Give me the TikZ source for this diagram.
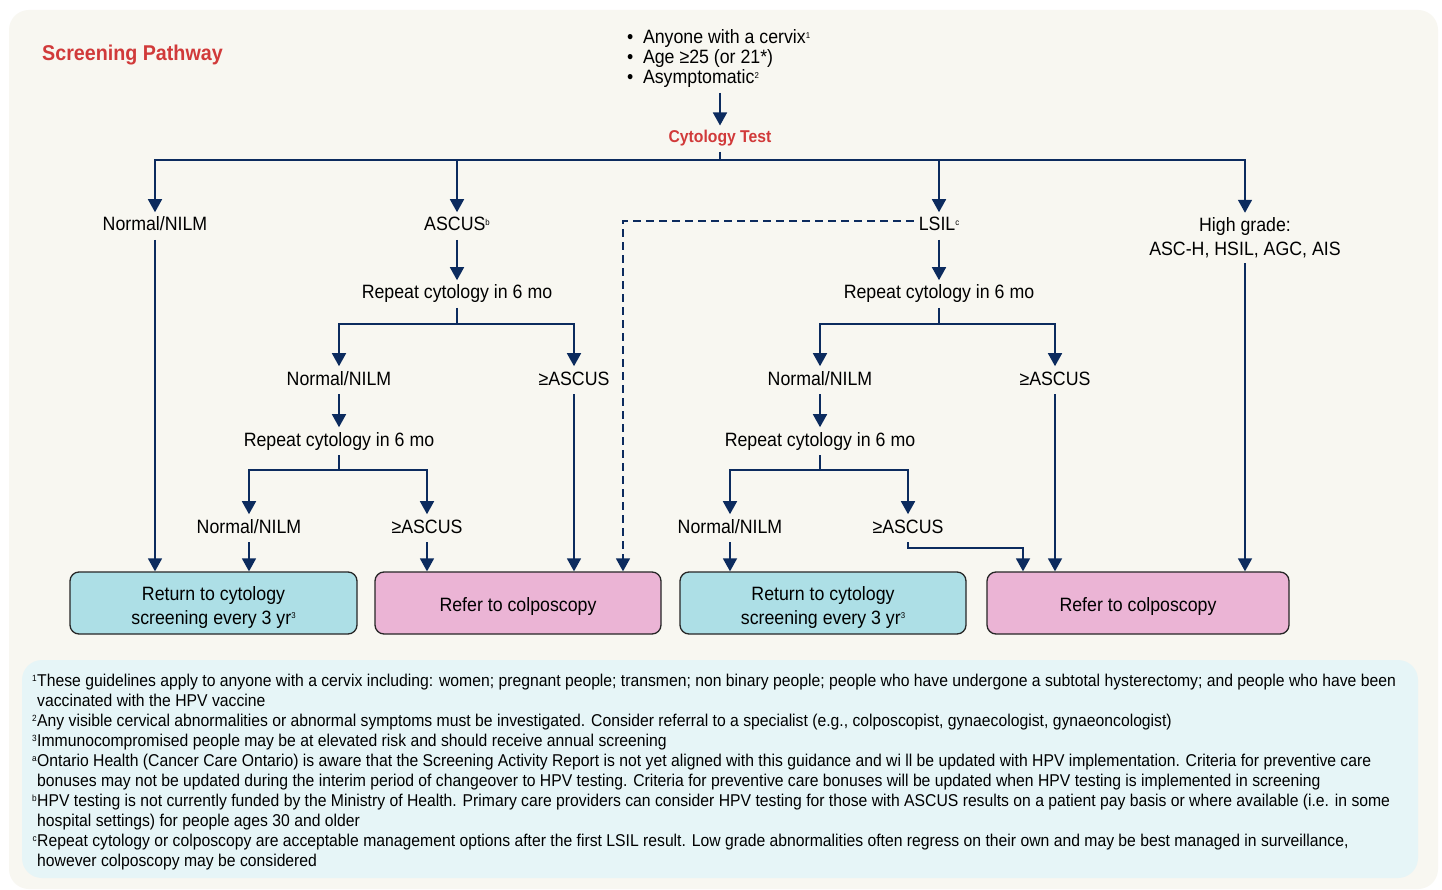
\documentclass[tikz,border=0pt]{standalone}
\usepackage{fontspec}
\setmainfont{Liberation Sans}[FakeStretch=0.92]
\usetikzlibrary{arrows.meta}
\definecolor{navy}{HTML}{0C2B5E}
\definecolor{cream}{HTML}{F8F7F1}
\definecolor{fnbg}{HTML}{E6F5F7}
\definecolor{cyanbox}{HTML}{ADDFE6}
\definecolor{pinkbox}{HTML}{EBB4D5}
\definecolor{redtxt}{HTML}{D13A3A}
\newcommand\smk[1]{\raisebox{5.5pt}{\fontsize{8.5}{8.5}\selectfont #1}}
\newcommand\fmk[1]{\llap{\raisebox{5pt}{\fontsize{9}{9}\selectfont #1}\hspace{0.5pt}}}
\tikzset{
  lbl/.style={font=\fontsize{19.3}{24}\selectfont, inner xsep=2pt, inner ysep=2pt, text height=13.8pt, text depth=4pt, outer sep=3pt, anchor=base},
  lbl2/.style={font=\fontsize{19.3}{24}\selectfont, inner sep=2pt, outer sep=3pt, align=center},
  arr/.style={draw=navy, line width=1.6pt, -{Triangle[width=14pt,length=13pt]}},
  ln/.style={draw=navy, line width=1.6pt},
  retbox/.style={draw=black!85, line width=1.3pt, rounded corners=9pt, fill=cyanbox, minimum height=62pt, align=center, font=\fontsize{19.3}{24}\selectfont, inner sep=0pt, text height=42pt, text depth=0pt},
  refbox/.style={retbox, fill=pinkbox, text height=18pt, text depth=2pt},
  fn/.style={font=\fontsize{17.1}{20}\selectfont, anchor=base west, inner sep=0pt},
}
\begin{document}
\begin{tikzpicture}[x=1pt,y=-1pt]
\useasboundingbox (0,0) rectangle (1442,890);
\fill[white] (0,0) rectangle (1442,890);
\fill[cream, rounded corners=20pt] (9,10) rectangle (1438,889);
\fill[fnbg, rounded corners=20pt] (22,660) rectangle (1418,878);

% title
\node[anchor=base west, inner sep=0pt, font=\fontsize{21.4}{24}\selectfont\bfseries, text=redtxt] (title) at (42,61) {Screening Pathway};

% criteria
\node[lbl, anchor=base west] (b1) at (622,44) {\makebox[16pt][l]{•}Anyone with a cervix\smk{1}};
\node[lbl, anchor=base west] (b2) at (622,64) {\makebox[16pt][l]{•}Age ≥25 (or 21*)};
\node[lbl, anchor=base west] (b3) at (622,84) {\makebox[16pt][l]{•}Asymptomatic\smk{2}};
\node[lbl, font=\fontsize{17.1}{20}\selectfont\bfseries, text=redtxt, text height=12.5pt] (ct) at (720,143) {Cytology Test};
\draw[arr] (b3.south -| ct.north) -- (ct.north);

% first-level results
\coordinate (s0) at (720,160);
\node[lbl] (n1) at (155,231) {Normal/NILM};
\node[lbl] (ascus) at (457,231) {ASCUS\smk{b}};
\node[lbl] (lsil) at (939,231) {LSIL\smk{c}};
\node[lbl2] (hg) at (1245,238) {High grade:\\ASC-H, HSIL, AGC, AIS};
\draw[ln] (ct) -- (s0);
\draw[arr] (s0) -| (n1);
\draw[arr] (s0) -| (ascus);
\draw[arr] (s0) -| (lsil);
\draw[arr] (s0) -| (hg);

% ASCUS branch
\node[lbl] (rp1) at (457,299) {Repeat cytology in 6 mo};
\coordinate (s1) at (457,324);
\node[lbl] (nn2) at (339,385) {Normal/NILM};
\node[lbl] (ga2) at (574,385) {≥ASCUS};
\node[lbl] (rp3) at (339,446) {Repeat cytology in 6 mo};
\coordinate (s2) at (339,470);
\node[lbl] (nn4) at (249,533) {Normal/NILM};
\node[lbl] (ga4) at (427,533) {≥ASCUS};
\draw[arr] (ascus) -- (ascus |- rp1.north);
\draw[ln] (rp1) -- (s1);
\draw[arr] (s1) -| (nn2);
\draw[arr] (s1) -| (ga2);
\draw[arr] (nn2) -- (nn2 |- rp3.north);
\draw[ln] (rp3) -- (s2);
\draw[arr] (s2) -| (nn4);
\draw[arr] (s2) -| (ga4);

% LSIL branch
\node[lbl] (rp2) at (939,299) {Repeat cytology in 6 mo};
\coordinate (s3) at (939,324);
\node[lbl] (nn3) at (820,385) {Normal/NILM};
\node[lbl] (ga3) at (1055,385) {≥ASCUS};
\node[lbl] (rp4) at (820,446) {Repeat cytology in 6 mo};
\coordinate (s4) at (820,470);
\node[lbl] (nn5) at (730,533) {Normal/NILM};
\node[lbl] (ga5) at (908,533) {≥ASCUS};
\draw[arr] (lsil) -- (lsil |- rp2.north);
\draw[ln] (rp2) -- (s3);
\draw[arr] (s3) -| (nn3);
\draw[arr] (s3) -| (ga3);
\draw[arr] (nn3) -- (nn3 |- rp4.north);
\draw[ln] (rp4) -- (s4);
\draw[arr] (s4) -| (nn5);
\draw[arr] (s4) -| (ga5);

% outcome boxes
\node[retbox, minimum width=287pt] (ret1) at (213.5,603) {Return to cytology\\screening every 3 yr\smk{3}};
\node[refbox, minimum width=286pt] (ref1) at (518,603) {Refer to colposcopy};
\node[retbox, minimum width=286pt] (ret2) at (823,603) {Return to cytology\\screening every 3 yr\smk{3}};
\node[refbox, minimum width=302pt] (ref2) at (1138,603) {Refer to colposcopy};

\draw[arr] (n1) -- (n1 |- ret1.north);
\draw[arr] (nn4) -- (nn4 |- ret1.north);
\draw[arr] (ga4) -- (ga4 |- ref1.north);
\draw[arr] (ga2) -- (ga2 |- ref1.north);
\coordinate (d1) at (623,221);
\draw[arr, dashed, dash pattern=on 8pt off 5pt] (lsil.west |- d1) -- (d1) -- (d1 |- ref1.north);
\draw[arr] (nn5) -- (nn5 |- ret2.north);
\coordinate (c5) at (1023,548);
\draw[arr] (ga5) |- (c5) -- (c5 |- ref2.north);
\draw[arr] (ga3) -- (ga3 |- ref2.north);
\draw[arr] (hg) -- (hg |- ref2.north);

% footnotes
\node[fn] (fn1) at (37,686) {\fmk{1}These guidelines apply to anyone with a cervix including: women; pregnant people; transmen; non binary people; people who have undergone a subtotal hysterectomy; and people who have been};
\node[fn] (fn2) at (37,706) {vaccinated with the HPV vaccine};
\node[fn] (fn3) at (37,726) {\fmk{2}Any visible cervical abnormalities or abnormal symptoms must be investigated. Consider referral to a specialist (e.g., colposcopist, gynaecologist, gynaeoncologist)};
\node[fn] (fn4) at (37,746) {\fmk{3}Immunocompromised people may be at elevated risk and should receive annual screening};
\node[fn] (fn5) at (37,766) {\fmk{a}Ontario Health (Cancer Care Ontario) is aware that the Screening Activity Report is not yet aligned with this guidance and wi ll be updated with HPV implementation. Criteria for preventive care};
\node[fn] (fn6) at (37,786) {bonuses may not be updated during the interim period of changeover to HPV testing. Criteria for preventive care bonuses will be updated when HPV testing is implemented in screening};
\node[fn] (fn7) at (37,806) {\fmk{b}HPV testing is not currently funded by the Ministry of Health. Primary care providers can consider HPV testing for those with ASCUS results on a patient pay basis or where available (i.e. in some};
\node[fn] (fn8) at (37,826) {hospital settings) for people ages 30 and older};
\node[fn] (fn9) at (37,846) {\fmk{c}Repeat cytology or colposcopy are acceptable management options after the first LSIL result. Low grade abnormalities often regress on their own and may be best managed in surveillance,};
\node[fn] (fn10) at (37,866) {however colposcopy may be considered};
\end{tikzpicture}
\end{document}
